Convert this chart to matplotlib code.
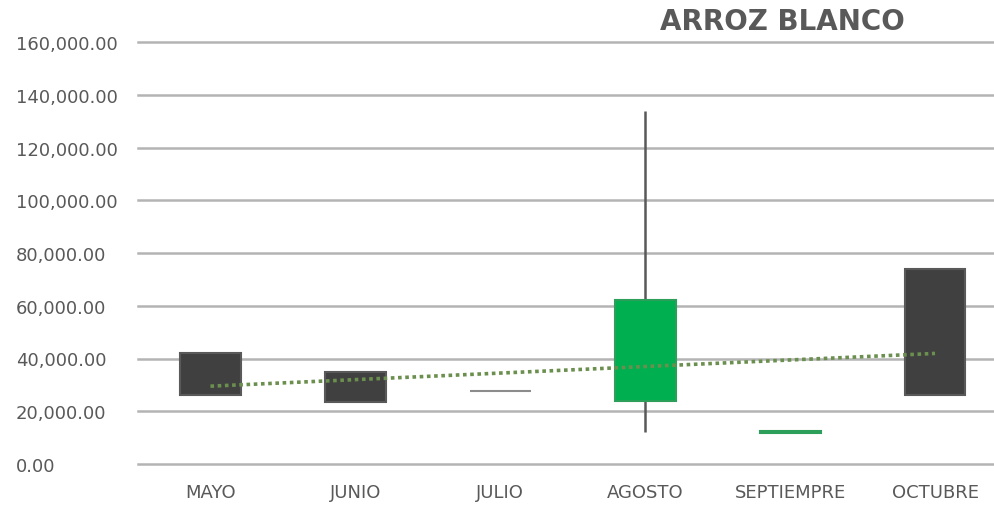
import matplotlib.pyplot as plt
import numpy as np

# Datos del grafico (precio por mes)
meses = ["MAYO", "JUNIO", "JULIO", "AGOSTO", "SEPTIEMPRE", "OCTUBRE"]
apertura = [42000, 35000, 27500, 24000, 11800, 74000]
maximo = [42000, 35000, 27500, 134000, 12500, 74000]
minimo = [26000, 23500, 27500, 12000, 11800, 26000]
cierre = [26000, 23500, 27500, 62000, 12500, 26000]

text_color = "#595959"
grid_color = "#B4B4B4"

fig = plt.figure(figsize=(9.95, 5.06), dpi=100)
ax = fig.add_axes([138 / 995, 1 - 465 / 506, (1007.5 - 138) / 995, (465 - 43) / 506])

x = np.arange(len(meses))

# mechas (max/min)
ax.vlines(x, minimo, maximo, color="#595959", linewidth=1.8, zorder=2)

# cuerpos de las velas
for i in range(len(meses)):
    o, c = apertura[i], cierre[i]
    if c > o:
        face, edge = "#00B050", "#2E9E5B"
    elif c < o:
        face, edge = "#404040", "#595959"
    else:
        face, edge = "#8C8C8C", "#8C8C8C"
    ax.bar(x[i], abs(c - o), bottom=min(o, c), width=0.42,
           color=face, edgecolor=edge, linewidth=1.5, zorder=3)

# linea de tendencia (lineal sobre apertura)
m, b = np.polyfit(x, apertura, 1)
ax.plot(x, m * x + b, color="#6B8F4E", linewidth=2.6,
        linestyle=(0, (1, 1)), zorder=4)

ax.set_xlim(-0.5, 5.5)
ax.set_ylim(0, 160000)
ax.set_yticks(np.arange(0, 160001, 20000))
ax.set_yticklabels(["{:,.2f}".format(v) for v in np.arange(0, 160001, 20000)])
ax.set_xticks(x)
ax.set_xticklabels(meses)

ax.grid(axis="y", color=grid_color, linewidth=1.8, zorder=0)
for gl in ax.get_ygridlines():
    gl.set_clip_on(False)
ax.set_axisbelow(True)
for s in ax.spines.values():
    s.set_visible(False)

ax.tick_params(axis="y", length=0, pad=88, labelsize=13, labelcolor=text_color)
ax.tick_params(axis="x", length=0, pad=14, labelsize=13, labelcolor=text_color)
for lbl in ax.get_yticklabels():
    lbl.set_horizontalalignment("left")

fig.text(782 / 995, 1 - 22 / 506, "ARROZ BLANCO", ha="center", va="center",
         fontsize=20, fontweight="bold", color=text_color)

fig.savefig("out.png", dpi=100)
